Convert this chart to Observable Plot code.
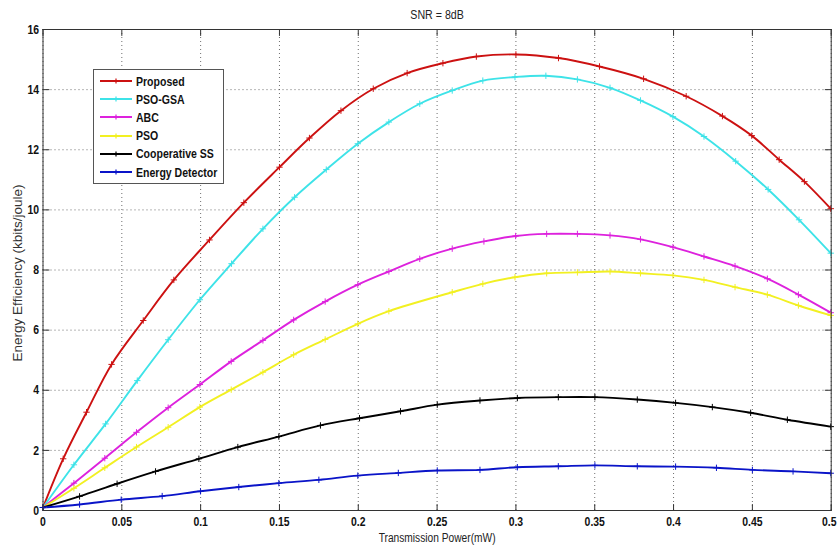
<!DOCTYPE html>
<html>
<head>
<meta charset="utf-8">
<script src="https://cdn.jsdelivr.net/npm/d3@7"></script>
<script src="https://cdn.jsdelivr.net/npm/@observablehq/plot@0.6"></script>
<style>
  html, body { margin: 0; padding: 0; background: #fff; }
  #wrap { position: relative; width: 838px; height: 549px; }
  #legend {
    position: absolute; left: 93px; top: 69px; width: 129px; height: 111px;
    border: 1px solid #555; background: #fff; box-sizing: content-box;
    padding-top: 2px;
  }
  .row { height: 18.2px; display: flex; align-items: center; white-space: nowrap;
    font-family: "Liberation Sans", Arial, sans-serif;
    font-weight: bold; font-size: 13.5px; color: #111; }
  .row svg { margin-left: 6px; margin-right: 4px; flex: none; }
  .row span { display: inline-block; transform: scaleX(0.78); transform-origin: left center; }
</style>
</head>
<body>
<div id="wrap"></div>
<script>
// ---- data ----
const seriesNames = ["Proposed", "PSO-GSA", "ABC", "PSO", "Cooperative SS", "Energy Detector"];
const seriesColors = ["#cc1111", "#3ee3e8", "#dd22dd", "#f2f022", "#000000", "#0a14c8"];

const proposedX = [0, 0.0128, 0.0276, 0.0435, 0.0636, 0.083, 0.1056, 0.1274, 0.150, 0.169, 0.189, 0.2095, 0.231, 0.2537, 0.2749, 0.300, 0.327, 0.353, 0.381, 0.408, 0.431, 0.4496, 0.467, 0.483, 0.4997];
const proposedY = [0.1, 1.72, 3.27, 4.86, 6.32, 7.67, 9.0, 10.24, 11.42, 12.39, 13.3, 14.03, 14.55, 14.88, 15.1, 15.17, 15.05, 14.77, 14.36, 13.78, 13.12, 12.47, 11.67, 10.94, 10.04];

const psoGsaX = [0, 0.0196, 0.0397, 0.0598, 0.0794, 0.0995, 0.1196, 0.1395, 0.1596, 0.1797, 0.1997, 0.2194, 0.239, 0.2596, 0.279, 0.2994, 0.319, 0.339, 0.3597, 0.379, 0.3996, 0.4193, 0.4394, 0.46, 0.4796, 0.4997];
const psoGsaY = [0.1, 1.52, 2.88, 4.32, 5.68, 7.01, 8.21, 9.37, 10.42, 11.34, 12.2, 12.92, 13.53, 13.97, 14.3, 14.42, 14.46, 14.34, 14.06, 13.64, 13.1, 12.44, 11.62, 10.68, 9.67, 8.56];

const abcX = [0, 0.0196, 0.0392, 0.0593, 0.0794, 0.0995, 0.1194, 0.1395, 0.159, 0.179, 0.1997, 0.2194, 0.239, 0.2596, 0.2797, 0.2998, 0.3195, 0.339, 0.3597, 0.379, 0.3996, 0.4193, 0.439, 0.4595, 0.4792, 0.4997];
const abcY = [0.1, 0.91, 1.74, 2.6, 3.42, 4.19, 4.96, 5.66, 6.34, 6.95, 7.51, 7.95, 8.37, 8.71, 8.95, 9.13, 9.2, 9.2, 9.15, 9.02, 8.76, 8.45, 8.13, 7.71, 7.18, 6.58];

const psoX = [0, 0.0196, 0.0392, 0.0593, 0.0794, 0.0995, 0.1194, 0.1395, 0.159, 0.179, 0.1997, 0.2194, 0.2596, 0.279, 0.2994, 0.3195, 0.339, 0.3597, 0.379, 0.3996, 0.4193, 0.439, 0.4595, 0.4792, 0.4997];
const psoY = [0.1, 0.74, 1.42, 2.11, 2.77, 3.44, 4.02, 4.6, 5.18, 5.69, 6.21, 6.63, 7.26, 7.54, 7.76, 7.89, 7.92, 7.95, 7.89, 7.82, 7.67, 7.43, 7.18, 6.82, 6.49];

const coopX = [0, 0.0232, 0.047, 0.0714, 0.0989, 0.1236, 0.1496, 0.176, 0.2008, 0.2268, 0.2501, 0.2772, 0.3009, 0.3269, 0.3501, 0.377, 0.4013, 0.4246, 0.4489, 0.4722, 0.4997];
const coopY = [0.1, 0.47, 0.89, 1.3, 1.72, 2.11, 2.46, 2.83, 3.07, 3.3, 3.52, 3.66, 3.74, 3.77, 3.77, 3.69, 3.58, 3.44, 3.25, 3.02, 2.79];

const energyX = [0, 0.0232, 0.0496, 0.0756, 0.0999, 0.1242, 0.1496, 0.175, 0.1997, 0.2254, 0.2501, 0.2772, 0.3009, 0.3269, 0.3501, 0.377, 0.4013, 0.4272, 0.45, 0.4758, 0.4997];
const energyY = [0.1, 0.2, 0.36, 0.48, 0.64, 0.78, 0.91, 1.02, 1.16, 1.25, 1.33, 1.35, 1.44, 1.47, 1.5, 1.47, 1.46, 1.42, 1.35, 1.3, 1.24];

const xTickValues = [0, 0.05, 0.1, 0.15, 0.2, 0.25, 0.3, 0.35, 0.4, 0.45, 0.5];
const xTickLabels = ["0", "0.05", "0.1", "0.15", "0.2", "0.25", "0.3", "0.35", "0.4", "0.45", "0.5"];
const yTickValues = [0, 2, 4, 6, 8, 10, 12, 14, 16];
const yTickLabels = ["0", "2", "4", "6", "8", "10", "12", "14", "16"];

const titleText = "SNR = 8dB";
const xLabel = "Transmission Power(mW)";
const yLabel = "Energy Efficiency (kbits/joule)";

// ---- build table ----
const allX = [proposedX, psoGsaX, abcX, psoX, coopX, energyX];
const allY = [proposedY, psoGsaY, abcY, psoY, coopY, energyY];
const data = [];
seriesNames.forEach((name, i) => {
  allX[i].forEach((x, j) => data.push({series: name, x, y: allY[i][j]}));
});

const tickShape = {draw(context, l) { context.moveTo(0, 0); context.lineTo(0, -l); }};
const tickOpts = {length: 6, anchor: "start", shape: tickShape, stroke: "#333", strokeWidth: 1};
const gridOpts = {stroke: "#555", strokeOpacity: 0.85, strokeDasharray: "1,3", strokeWidth: 1};
const regular = "'Liberation Sans', Arial, sans-serif";

const chart = Plot.plot({
  width: 838,
  height: 549,
  marginLeft: 42.5,
  marginRight: 7.3,
  marginTop: 29,
  marginBottom: 39,
  style: {fontFamily: regular, background: "#fff", overflow: "visible"},
  x: {domain: [0, 0.5]},
  y: {domain: [0, 16]},
  color: {domain: seriesNames, range: seriesColors},
  marks: [
    Plot.gridX(xTickValues, gridOpts),
    Plot.gridY(yTickValues, gridOpts),
    Plot.vector(yTickValues, {y: d => d, frameAnchor: "left", rotate: 90, ...tickOpts}),
    Plot.vector(yTickValues, {y: d => d, frameAnchor: "right", rotate: -90, ...tickOpts}),
    Plot.vector(xTickValues, {x: d => d, frameAnchor: "bottom", rotate: 0, ...tickOpts}),
    Plot.vector(xTickValues, {x: d => d, frameAnchor: "top", rotate: 180, ...tickOpts}),
    Plot.axisX(xTickValues, {tickSize: 0, tickPadding: 6, label: null, fontSize: 13, fontWeight: "bold", fill: "#111",
      tickFormat: (d, i) => xTickLabels[i]}),
    Plot.axisY(yTickValues, {tickSize: 0, tickPadding: 4, label: null, fontSize: 13, fontWeight: "bold", fill: "#111",
      tickFormat: (d, i) => yTickLabels[i]}),
    Plot.line(data, {x: "x", y: "y", z: "series", stroke: "series", strokeWidth: 1.9, curve: "catmull-rom"}),
    Plot.dot(data, {x: "x", y: "y", stroke: "series", symbol: "plus", r: 2.2, strokeWidth: 1}),
    Plot.frame({stroke: "#333", strokeWidth: 1}),
    Plot.text([titleText], {frameAnchor: "top", dy: -15, lineAnchor: "middle", textAnchor: "middle", fontSize: 12.5, fill: "#222"}),
    Plot.text([xLabel], {frameAnchor: "bottom", dy: 28, lineAnchor: "middle", textAnchor: "middle", fontSize: 12, fill: "#222"}),
    Plot.text([yLabel], {frameAnchor: "left", dx: -25, dy: 3, lineAnchor: "middle", textAnchor: "middle", rotate: -90, fontSize: 13.5, fill: "#333"})
  ]
});

const wrap = document.getElementById("wrap");
wrap.appendChild(chart);

// emulate the narrow font of the original by compressing glyphs (text stays text)
function narrow(el, factor) {
  const w = el.getComputedTextLength();
  el.setAttribute("textLength", (w * factor).toFixed(1));
  el.setAttribute("lengthAdjust", "spacingAndGlyphs");
}
const xTickTexts = chart.querySelectorAll('[aria-label="x-axis tick label"] text');
chart.querySelectorAll('[aria-label="x-axis tick label"] text, [aria-label="y-axis tick label"] text')
  .forEach(t => narrow(t, 0.8));
if (xTickTexts.length) {
  const last = xTickTexts[xTickTexts.length - 1];
  last.setAttribute("dx", "-2");
}
chart.querySelectorAll("text").forEach(t => {
  if (t.textContent === titleText || t.textContent === xLabel) narrow(t, 0.85);
});

// legend overlay
const legend = document.createElement("div");
legend.id = "legend";
seriesNames.forEach((name, i) => {
  const row = document.createElement("div");
  row.className = "row";
  const c = seriesColors[i];
  row.innerHTML = `<svg width="32" height="8"><line x1="0" y1="4" x2="32" y2="4" stroke="${c}" stroke-width="2"/>` +
    `<path d="M16,1.5V6.5M13.5,4H18.5" stroke="${c}" stroke-width="1.2"/></svg><span>${name}</span>`;
  legend.appendChild(row);
});
wrap.appendChild(legend);
</script>
</body>
</html>
